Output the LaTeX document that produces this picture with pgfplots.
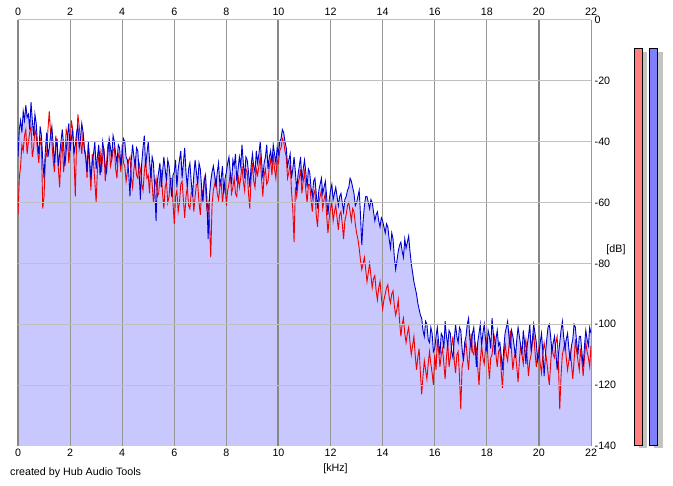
\documentclass[border=0pt]{standalone}
\usepackage{fontspec}
\setmainfont{Liberation Sans}
\usepackage{pgfplots}
\usepackage{pgfplotstable}
\pgfplotsset{compat=1.18}
\definecolor{fillc}{RGB}{200,200,255}
\definecolor{blueline}{RGB}{0,0,205}
\definecolor{redline}{RGB}{240,0,0}
\definecolor{vgrid}{RGB}{150,150,150}
\definecolor{hgrid}{RGB}{192,192,192}
\definecolor{shadowc}{RGB}{196,196,190}
\definecolor{mred}{RGB}{255,128,128}
\definecolor{mblue}{RGB}{128,128,255}
\pgfplotstableread{
f b r
0.00 -45 -64
0.05 -36 -52
0.10 -33 -48
0.15 -37 -41
0.20 -30 -43
0.25 -33 -38
0.30 -28 -36
0.35 -32 -44
0.40 -31 -40
0.45 -36 -37
0.50 -27 -35
0.55 -33 -45
0.60 -38 -42
0.65 -31 -36
0.70 -34 -38
0.75 -41 -43
0.80 -44 -47
0.85 -35 -39
0.90 -38 -41
0.95 -46 -62
1.00 -52 -58
1.05 -43 -46
1.10 -37 -44
1.15 -45 -36
1.20 -42 -30
1.25 -38 -37
1.30 -35 -40
1.35 -41 -46
1.40 -47 -50
1.45 -42 -38
1.50 -39 -42
1.55 -48 -49
1.60 -44 -55
1.65 -40 -44
1.70 -36 -40
1.75 -41 -50
1.80 -48 -45
1.85 -43 -36
1.90 -38 -38
1.95 -34 -47
2.00 -43 -42
2.05 -39 -33
2.10 -36 -36
2.15 -44 -45
2.20 -41 -58
2.25 -37 -40
2.30 -35 -31
2.35 -42 -35
2.40 -39 -40
2.45 -34 -44
2.50 -37 -37
2.55 -43 -42
2.60 -45 -44
2.65 -50 -52
2.70 -40 -41
2.75 -46 -48
2.80 -52 -56
2.85 -47 -44
2.90 -44 -47
2.95 -40 -53
3.00 -49 -60
3.05 -45 -49
3.10 -41 -45
3.15 -51 -43
3.20 -47 -50
3.25 -40 -45
3.30 -43 -42
3.35 -48 -53
3.40 -50 -47
3.45 -44 -41
3.50 -39 -40
3.55 -42 -48
3.60 -45 -46
3.65 -38 -43
3.70 -40 -42
3.75 -44 -49
3.80 -47 -52
3.85 -41 -44
3.90 -42 -45
3.95 -48 -50
4.00 -44 -41
4.05 -39 -47
4.10 -40 -48
4.15 -45 -53
4.20 -46 -50
4.25 -50 -46
4.30 -58 -45
4.35 -46 -52
4.40 -41 -55
4.45 -45 -49
4.50 -48 -46
4.55 -42 -51
4.60 -43 -52
4.65 -50 -47
4.70 -59 -49
4.75 -47 -54
4.80 -42 -56
4.85 -38 -50
4.90 -48 -46
4.95 -44 -52
5.00 -40 -51
5.05 -46 -57
5.10 -52 -48
5.15 -45 -54
5.20 -47 -60
5.25 -55 -55
5.30 -66 -52
5.35 -53 -58
5.40 -50 -57
5.45 -47 -52
5.50 -55 -50
5.55 -50 -57
5.60 -45 -62
5.65 -49 -55
5.70 -53 -53
5.75 -46 -60
5.80 -48 -58
5.85 -53 -52
5.90 -58 -52
5.95 -51 -60
6.00 -50 -67
6.05 -46 -58
6.10 -55 -56
6.15 -49 -63
6.20 -46 -60
6.25 -43 -54
6.30 -52 -53
6.35 -47 -59
6.40 -42 -65
6.45 -50 -58
6.50 -55 -55
6.55 -49 -61
6.60 -47 -62
6.65 -53 -57
6.70 -58 -56
6.75 -51 -63
6.80 -46 -58
6.85 -50 -54
6.90 -54 -54
6.95 -47 -60
7.00 -49 -64
7.05 -55 -56
7.10 -60 -57
7.15 -53 -52
7.20 -51 -55
7.25 -58 -62
7.30 -72 -60
7.35 -58 -66
7.40 -53 -78
7.45 -50 -61
7.50 -48 -56
7.55 -51 -54
7.60 -55 -52
7.65 -50 -57
7.70 -47 -59
7.75 -54 -55
7.80 -52 -53
7.85 -48 -60
7.90 -57 -56
7.95 -52 -54
8.00 -50 -61
8.05 -47 -56
8.10 -45 -54
8.15 -50 -50
8.20 -54 -57
8.25 -46 -55
8.30 -48 -52
8.35 -44 -57
8.40 -53 -58
8.45 -49 -51
8.50 -45 -55
8.55 -48 -52
8.60 -41 -48
8.65 -47 -53
8.70 -52 -56
8.75 -45 -49
8.80 -46 -50
8.85 -50 -57
8.90 -55 -62
8.95 -48 -52
9.00 -44 -47
9.05 -48 -53
9.10 -50 -55
9.15 -43 -49
9.20 -47 -51
9.25 -44 -48
9.30 -40 -45
9.35 -46 -52
9.40 -52 -58
9.45 -47 -51
9.50 -45 -49
9.55 -41 -54
9.60 -49 -53
9.65 -45 -48
9.70 -43 -46
9.75 -47 -51
9.80 -41 -44
9.85 -44 -49
9.90 -47 -52
9.95 -42 -46
10.00 -44 -47
10.05 -40 -43
10.10 -39 -42
10.15 -36 -39
10.20 -37 -40
10.25 -40 -43
10.30 -42 -45
10.35 -48 -52
10.40 -46 -50
10.45 -44 -47
10.50 -52 -56
10.55 -49 -62
10.60 -45 -73
10.65 -50 -55
10.70 -56 -58
10.75 -51 -54
10.80 -48 -52
10.85 -45 -49
10.90 -53 -57
10.95 -49 -53
11.00 -46 -50
11.05 -50 -56
11.10 -55 -60
11.15 -49 -54
11.20 -50 -54
11.25 -55 -59
11.30 -58 -63
11.35 -53 -57
11.40 -52 -56
11.45 -57 -64
11.50 -62 -68
11.55 -56 -60
11.60 -54 -58
11.65 -52 -56
11.70 -57 -62
11.75 -55 -59
11.80 -53 -57
11.85 -58 -64
11.90 -64 -70
11.95 -59 -65
12.00 -56 -62
12.05 -54 -60
12.10 -59 -66
12.15 -57 -63
12.20 -55 -61
12.25 -58 -65
12.30 -61 -69
12.35 -58 -64
12.40 -57 -63
12.45 -60 -67
12.50 -63 -72
12.55 -59 -66
12.60 -58 -64
12.65 -56 -61
12.70 -55 -60
12.75 -52 -63
12.80 -53 -66
12.85 -55 -62
12.90 -57 -63
12.95 -61 -67
13.00 -60 -70
13.05 -58 -72
13.10 -56 -75
13.15 -64 -79
13.20 -74 -82
13.25 -66 -80
13.30 -61 -78
13.35 -58 -82
13.40 -58 -86
13.45 -60 -83
13.50 -62 -80
13.55 -59 -84
13.60 -60 -88
13.65 -63 -85
13.70 -66 -84
13.75 -64 -89
13.80 -63 -92
13.85 -66 -88
13.90 -68 -86
13.95 -65 -91
14.00 -66 -95
14.05 -68 -92
14.10 -70 -90
14.15 -67 -88
14.20 -68 -87
14.25 -72 -91
14.30 -75 -93
14.35 -70 -90
14.40 -72 -89
14.45 -78 -94
14.50 -82 -97
14.55 -79 -95
14.60 -76 -92
14.65 -74 -99
14.70 -73 -104
14.75 -76 -100
14.80 -78 -98
14.85 -72 -103
14.90 -75 -106
14.95 -73 -103
15.00 -71 -101
15.05 -76 -106
15.10 -80 -110
15.15 -83 -107
15.20 -86 -104
15.25 -88 -110
15.30 -90 -115
15.35 -93 -111
15.40 -95 -108
15.45 -97 -116
15.50 -98 -123
15.55 -102 -117
15.60 -104 -112
15.65 -99 -115
15.70 -100 -118
15.75 -105 -113
15.80 -106 -109
15.85 -101 -113
15.90 -103 -116
15.95 -109 -120
16.00 -108 -110
16.05 -104 -115
16.10 -101 -105
16.15 -106 -109
16.20 -110 -114
16.25 -103 -110
16.30 -104 -108
16.35 -108 -113
16.40 -99 -118
16.45 -104 -111
16.50 -107 -106
16.55 -102 -114
16.60 -103 -111
16.65 -109 -107
16.70 -111 -104
16.75 -105 -112
16.80 -100 -116
16.85 -104 -110
16.90 -106 -109
16.95 -101 -117
17.00 -102 -128
17.05 -108 -114
17.10 -112 -112
17.15 -106 -108
17.20 -104 -106
17.25 -100 -111
17.30 -98 -115
17.35 -105 -108
17.40 -108 -103
17.45 -103 -109
17.50 -101 -110
17.55 -107 -106
17.60 -114 -108
17.65 -106 -114
17.70 -103 -120
17.75 -100 -112
17.80 -107 -107
17.85 -103 -111
17.90 -100 -113
17.95 -105 -108
18.00 -109 -105
18.05 -102 -112
18.10 -104 -118
18.15 -108 -111
18.20 -98 -110
18.25 -103 -106
18.30 -110 -104
18.35 -105 -110
18.40 -102 -114
18.45 -107 -109
18.50 -106 -108
18.55 -110 -115
18.60 -115 -121
18.65 -108 -112
18.70 -103 -106
18.75 -101 -110
18.80 -99 -112
18.85 -104 -107
18.90 -108 -102
18.95 -102 -109
19.00 -104 -115
19.05 -107 -111
19.10 -111 -109
19.15 -105 -114
19.20 -101 -119
19.25 -104 -112
19.30 -107 -107
19.35 -110 -110
19.40 -102 -113
19.45 -106 -108
19.50 -113 -105
19.55 -107 -111
19.60 -104 -117
19.65 -100 -112
19.70 -109 -110
19.75 -105 -106
19.80 -100 -103
19.85 -103 -109
19.90 -106 -114
19.95 -112 -110
20.00 -110 -108
20.05 -106 -113
20.10 -103 -116
20.15 -109 -110
20.20 -117 -106
20.25 -110 -109
20.30 -105 -112
20.35 -101 -116
20.40 -100 -120
20.45 -104 -113
20.50 -109 -107
20.55 -106 -110
20.60 -104 -111
20.65 -109 -106
20.70 -115 -104
20.75 -110 -113
20.80 -106 -128
20.85 -102 -117
20.90 -99 -110
20.95 -104 -108
21.00 -108 -106
21.05 -105 -111
21.10 -103 -115
21.15 -108 -112
21.20 -112 -109
21.25 -107 -113
21.30 -105 -118
21.35 -100 -112
21.40 -101 -105
21.45 -106 -109
21.50 -110 -112
21.55 -104 -115
21.60 -104 -108
21.65 -109 -112
21.70 -114 -117
21.75 -107 -111
21.80 -102 -106
21.85 -105 -109
21.90 -107 -111
21.95 -101 -114
22.00 -103 -107
}\spec
\begin{document}
\begin{tikzpicture}
\path[use as bounding box] (0,0) rectangle (673pt,486pt);
% fill under the spectrum
\begin{axis}[
  at={(18pt,40pt)}, anchor=south west,
  scale only axis, width=573pt, height=426pt,
  xmin=0, xmax=22, ymin=-140, ymax=0,
  hide axis,
]
\addplot[draw=none, fill=fillc] table[x=f, y=b] {\spec} |- (axis cs:0,-140) -- cycle;
\end{axis}
% vertical grid, traces, bottom and right labels
\begin{axis}[
  at={(18pt,40pt)}, anchor=south west,
  scale only axis, width=573pt, height=426pt,
  xmin=0, xmax=22, ymin=-140, ymax=0,
  axis line style={draw=none},
  major tick length=0pt,
  xtick={0,2,4,6,8,10,12,14,16,18,20,22},
  xticklabels={0,2,4,6,8,10,12,14,16,18,20,22},
  ytick={0,-20,-40,-60,-80,-100,-120,-140},
  yticklabels={0,-20,-40,-60,-80,-100,-120,-140},
  extra x ticks={0,10,20}, extra x tick labels={},
  extra x tick style={major grid style={line width=2pt, color=vgrid!90!black}},
  yticklabel pos=right,
  xmajorgrids,
  major grid style={line width=1pt, color=vgrid},
  ticklabel style={font=\fontsize{10.7}{12}\selectfont, inner sep=0pt},
  xticklabel style={anchor=north, yshift=-3pt},
  yticklabel style={anchor=west, xshift=3.5pt},
]
\addplot[redline, line width=0.9pt] table[x=f, y=r] {\spec};
\addplot[blueline, line width=0.9pt] table[x=f, y=b] {\spec};
\end{axis}
% horizontal grid and top labels
\begin{axis}[
  at={(18pt,40pt)}, anchor=south west,
  scale only axis, width=573pt, height=426pt,
  xmin=0, xmax=22, ymin=-140, ymax=0,
  axis line style={draw=none},
  major tick length=0pt,
  xtick={0,2,4,6,8,10,12,14,16,18,20,22},
  xticklabels={0,2,4,6,8,10,12,14,16,18,20,22},
  xticklabel pos=upper,
  ytick={0,-20,-40,-60,-80,-100,-120},
  yticklabels={},
  ymajorgrids,
  major grid style={line width=1pt, color=hgrid},
  ticklabel style={font=\fontsize{10.7}{12}\selectfont, inner sep=0pt},
  xticklabel style={anchor=south, yshift=4pt},
]
\end{axis}
% level meters
\begin{axis}[
  at={(620pt,40pt)}, anchor=south west,
  scale only axis, width=53pt, height=426pt,
  xmin=620, xmax=673, ymin=-140, ymax=0,
  hide axis, clip=false,
]
\addplot[fill=shadowc, draw=none] coordinates {(638.5,-140.8) (638.5,-10.5) (647,-10.5) (647,-140.8)} -- cycle;
\addplot[fill=shadowc, draw=none] coordinates {(654,-140.8) (654,-10.5) (662.5,-10.5) (662.5,-140.8)} -- cycle;
\addplot[fill=mred, draw=black, line width=1pt] coordinates {(634.2,-139.7) (634.2,-9.5) (642.2,-9.5) (642.2,-139.7)} -- cycle;
\addplot[fill=mblue, draw=black, line width=1pt] coordinates {(649.7,-139.7) (649.7,-9.5) (657.8,-9.5) (657.8,-139.7)} -- cycle;
\end{axis}
\node[font=\fontsize{10.7}{12}\selectfont, anchor=center] at (335.5pt,17.5pt) {[kHz]};
\node[font=\fontsize{10.7}{12}\selectfont, anchor=center] at (616pt,236pt) {[dB]};
\node[font=\fontsize{10.7}{12}\selectfont, anchor=base west, inner sep=0pt] at (10pt,10pt) {created by Hub Audio Tools};
\end{tikzpicture}
\end{document}
